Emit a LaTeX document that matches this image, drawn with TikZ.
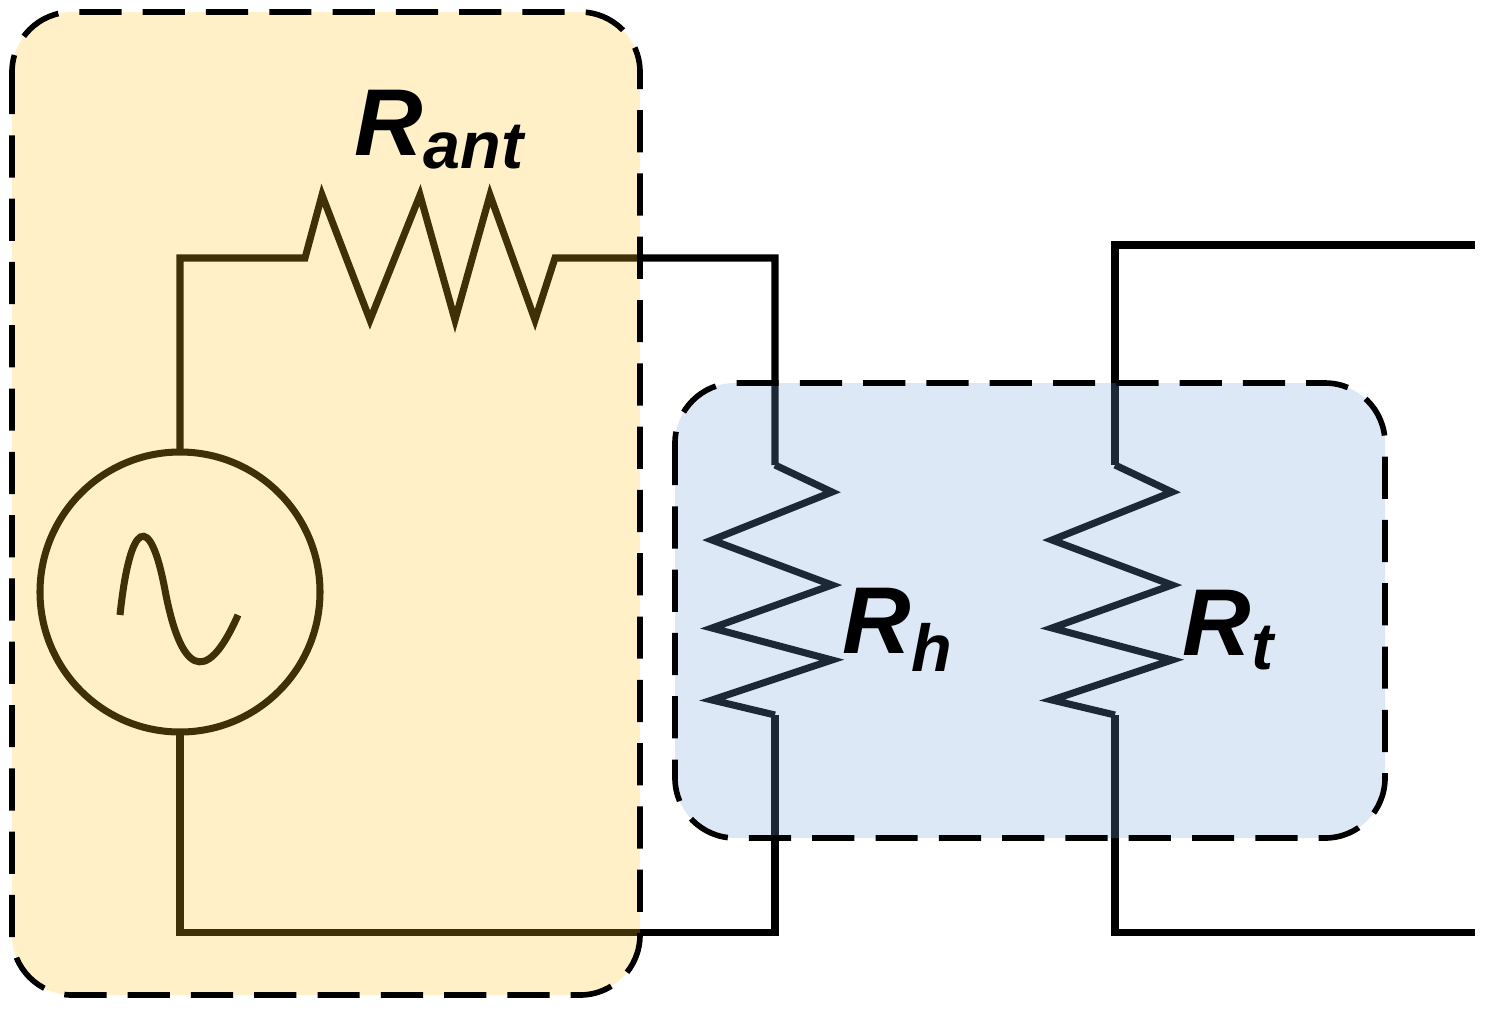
\documentclass[tikz,border=0pt]{standalone}
\usepackage{fontspec}
\setmainfont{Liberation Sans}
\usetikzlibrary{calc,backgrounds}

\definecolor{antfill}{RGB}{255,195,35}
\definecolor{sensfill}{RGB}{115,163,215}

\begin{document}
\begin{tikzpicture}[x=0.01cm,y=-0.01cm]
  \tikzstyle{wire}=[line width=2pt, line join=miter]
  \tikzstyle{box}=[draw=black, line width=1.6pt, dash pattern=on 12pt off 6pt, rounded corners=0.6cm, fill opacity=0.25]
  \tikzstyle{lbl}=[font=\fontsize{27}{30}\selectfont\bfseries\itshape, inner sep=0pt]
  \useasboundingbox (0,0) rectangle (1490,1011);

  % source and antenna resistor
  \coordinate (src_top) at (180,452);
  \coordinate (src_bot) at (180,732);
  \coordinate (ra_in) at (305,258);
  \coordinate (ra_out) at (555,258);
  \draw[wire] (180,592) circle (140);
  \draw[wire] (120,615) .. controls (130,520) and (150,510) .. (165,590)
              .. controls (180,670) and (205,690) .. (238,615);
  \draw[wire] (src_top) |- (ra_in) -- (322,195) -- (370,320) -- (420,195)
              -- (455,320) -- (490,195) -- (535,320) -- (ra_out) -| (775,465);

  % heater resistor
  \coordinate (rh_top) at (775,465);
  \coordinate (rh_bot) at (775,715);
  \draw[wire] (rh_top) -- (832,492) -- (712,540) -- (832,585) -- (712,628)
              -- (832,660) -- (712,700) -- (rh_bot);
  \draw[wire] (src_bot) |- (775,932) -- (rh_bot);

  % thermometer resistor
  \coordinate (rt_top) at (1115,465);
  \coordinate (rt_bot) at (1115,715);
  \coordinate (out_top) at (1475,245);
  \coordinate (out_bot) at (1475,932);
  \draw[wire] (rt_top) -- (1172,492) -- (1052,540) -- (1172,585) -- (1052,628)
              -- (1172,660) -- (1052,700) -- (rt_bot);
  \draw[wire] (out_top) -| (rt_top);
  \draw[wire] (out_bot) -| (rt_bot);

  % boxes
  \draw[box, fill=antfill] (12,12) rectangle (640,995);
  \draw[box, fill=sensfill] (675,383) rectangle (1385,838);

  \node[lbl] (lbl_ant) at (440,130) {R\textsubscript{ant}};
  \node[lbl, anchor=west] (lbl_h) at (842,630) {R\textsubscript{h}};
  \node[lbl, anchor=west] (lbl_t) at (1182,630) {R\textsubscript{t}};
\end{tikzpicture}
\end{document}
